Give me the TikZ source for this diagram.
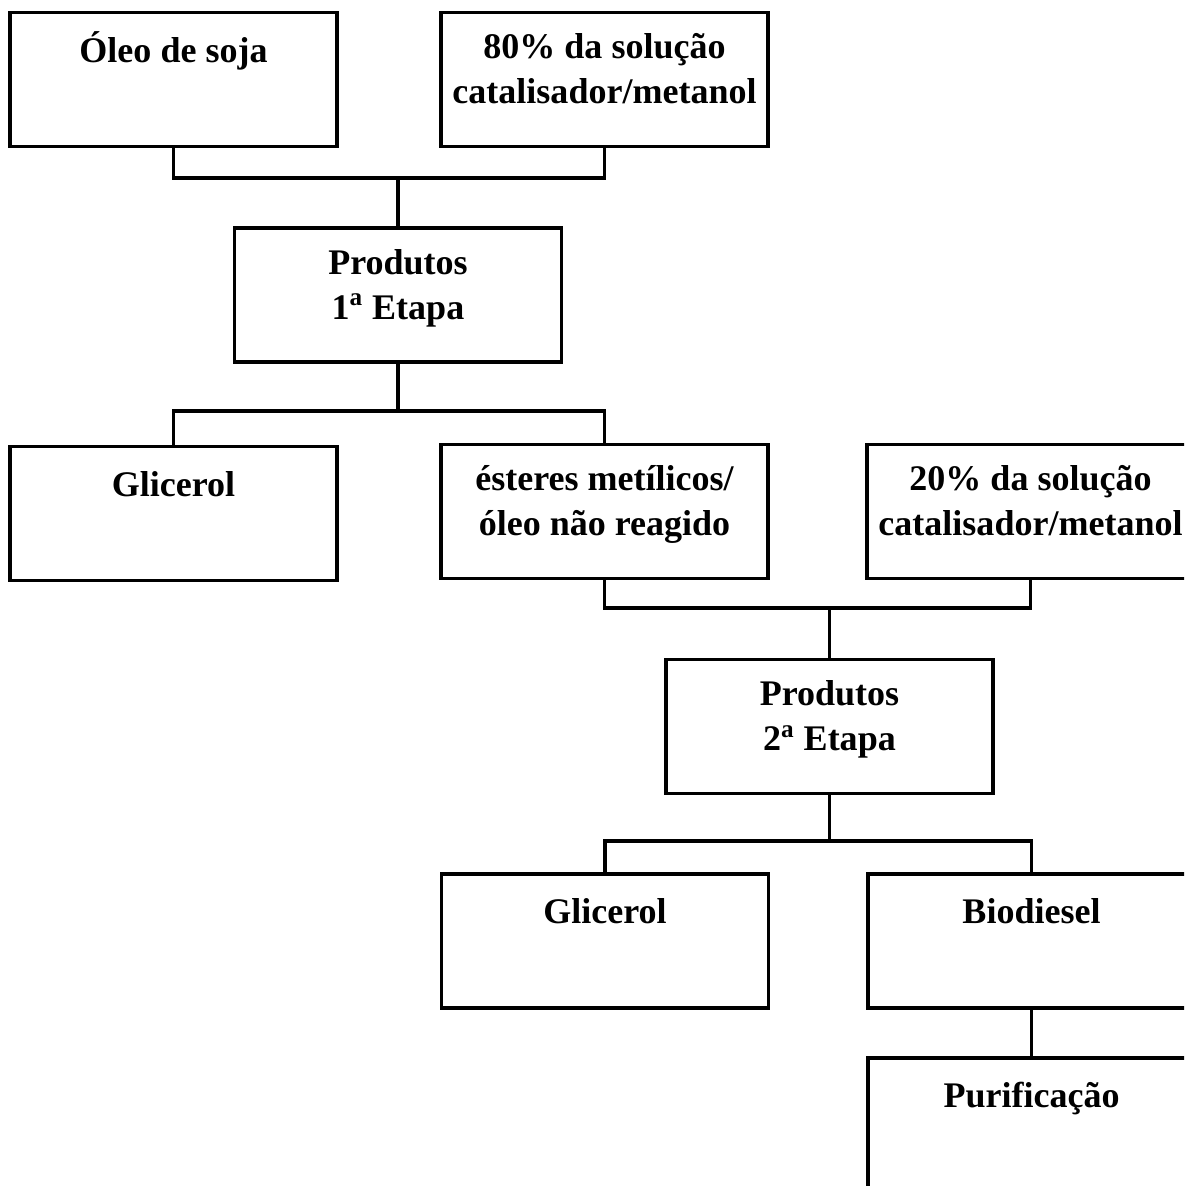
\documentclass[tikz,border=0pt]{standalone}
\usepackage{fontspec}
\setmainfont{Liberation Serif}
\usetikzlibrary{positioning}

\tikzset{
  boxtext/.style={anchor=north, inner sep=0pt, align=center, font=\bfseries\fontsize{20.5}{25.5}\selectfont},
  boxframe/.style={draw=black, line width=1.8pt, minimum width=6.54cm, minimum height=2.68cm, inner sep=0pt},
  procbox/.style={boxframe, label={[boxtext, yshift=-8pt]north:{\rule{0pt}{19pt}#1}}},
  singlebox/.style={boxframe, label={[boxtext, yshift=-10pt]north:{\rule{0pt}{19pt}#1}}},
  link/.style={line width=1.8pt, line cap=rect}
}

\begin{document}
\begin{tikzpicture}[x=0.02cm, y=-0.02cm]
        \useasboundingbox (0,0) rectangle (1184,1186);
        \clip (0,0) rectangle (1184,1186);
        % primeira etapa
        \node(oleo) [singlebox={\'Oleo de soja}] at (173.5, 79.5) {};
        \node(cat1) [procbox={80\% da solu\c{c}\~ao\\catalisador/metanol}] at (604.5, 79.5) {};
        \node(prod1) [procbox={Produtos\\1\textsuperscript{a} Etapa}] at (398, 295) {};
        \node(gli1) [singlebox={Glicerol}] at (173.5, 513.5) {};
        \node(est) [procbox={\'esteres met\'ilicos/\\\'oleo n\~ao reagido}] at (604.5, 511.5) {};
        % segunda etapa
        \node(cat2) [procbox={20\% da solu\c{c}\~ao\\catalisador/metanol}] at (1030.5, 511.5) {};
        \node(prod2) [procbox={Produtos\\2\textsuperscript{a} Etapa}] at (829.5, 726.5) {};
        \node(gli2) [singlebox={Glicerol}] at (605, 941) {};
        \node(bio) [singlebox={Biodiesel}] at (1031.5, 941) {};
        \node(puri) [singlebox={Purifica\c{c}\~ao}] at (1031.5, 1125) {};
        % junções
        \coordinate (j1) at (398, 178);
        \coordinate (j2) at (398, 411);
        \coordinate (j3) at (829.5, 608);
        \coordinate (j4) at (829.5, 841);
        \draw[link] (oleo.south) |- (j1) -| (cat1.south);
        \draw[link] (j1) -- (prod1.north);
        \draw[link] (prod1.south) -- (j2);
        \draw[link] (gli1.north) |- (j2) -| (est.north);
        \draw[link] (est.south) |- (j3) -| (cat2.south);
        \draw[link] (j3) -- (prod2.north);
        \draw[link] (prod2.south) -- (j4);
        \draw[link] (gli2.north) |- (j4) -| (bio.north);
        \draw[link] (bio.south) -- (puri.north);
    \end{tikzpicture}
\end{document}
